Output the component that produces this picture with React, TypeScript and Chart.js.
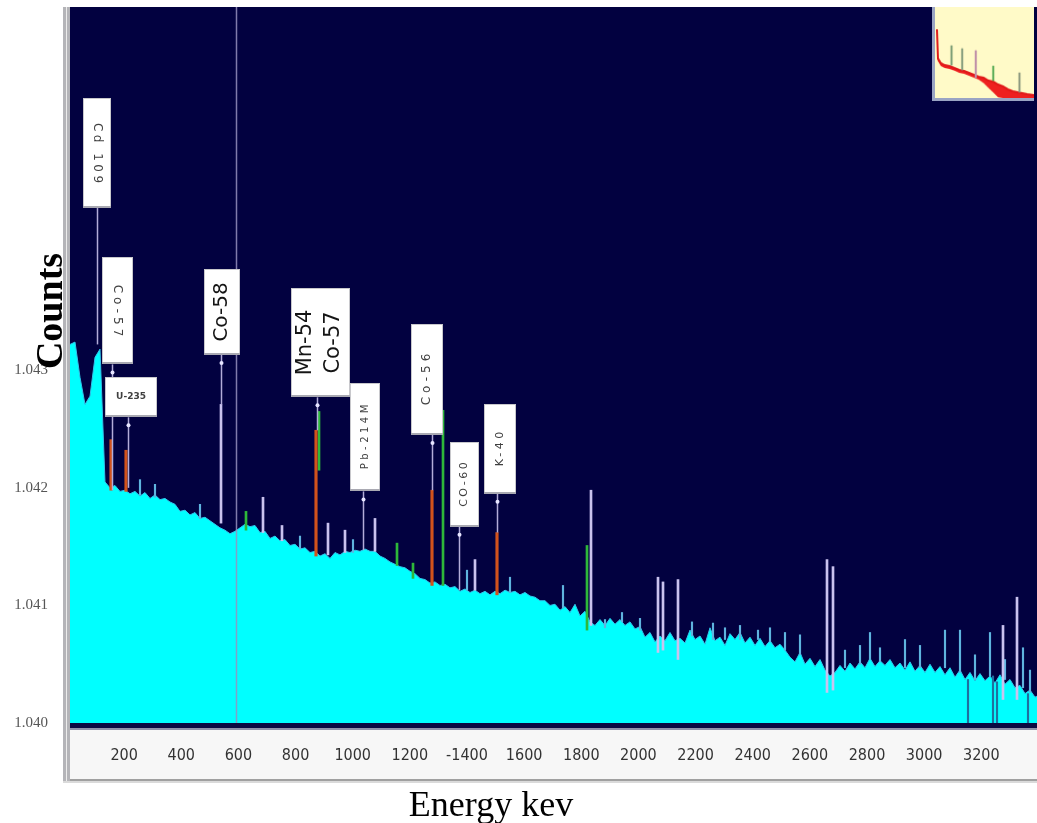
import React, { useEffect, useRef } from 'react';
import { Chart, registerables } from 'chart.js';

Chart.register(...registerables);

// ---------- spectrum (channel grid in keV, counts) ----------
const channelStartKeV = 10.5;
const channelWidthKeV = 17.5;
const spectrumCounts = [
  1.04322, 1.04324, 1.04294, 1.04271, 1.04278, 1.04311, 1.04318, 1.04205, 1.04200, 1.04202,
  1.04197, 1.04198, 1.04195, 1.04197, 1.04193, 1.04196, 1.04191, 1.04194, 1.04190, 1.04191,
  1.04188, 1.04186, 1.04180, 1.04181, 1.04177, 1.04179, 1.04174, 1.04175, 1.04172, 1.04169,
  1.04166, 1.04164, 1.04161, 1.04163, 1.04166, 1.04169, 1.04167, 1.04168, 1.04162, 1.04163,
  1.04157, 1.04159, 1.04155, 1.04156, 1.04151, 1.04152, 1.04148, 1.04149, 1.04145, 1.04146,
  1.04142, 1.04144, 1.04140, 1.04145, 1.04143, 1.04146, 1.04145, 1.04147, 1.04146, 1.04148,
  1.04146, 1.04146, 1.04142, 1.04140, 1.04137, 1.04135, 1.04133, 1.04132, 1.04129, 1.04127,
  1.04123, 1.04122, 1.04119, 1.04120, 1.04117, 1.04118, 1.04115, 1.04116, 1.04112, 1.04114,
  1.04111, 1.04113, 1.04110, 1.04112, 1.04109, 1.04112, 1.04110, 1.04113, 1.04111, 1.04112,
  1.04109, 1.04111, 1.04108, 1.04107, 1.04104, 1.04104, 1.04100, 1.04101, 1.04096, 1.04099,
  1.04094, 1.04101, 1.04091, 1.04095, 1.04086, 1.04083, 1.04088, 1.04083, 1.04089, 1.04084,
  1.04088, 1.04083, 1.04086, 1.04080, 1.04082, 1.04073, 1.04077, 1.04069, 1.04074, 1.04070,
  1.04077, 1.04070, 1.04072, 1.04068, 1.04079, 1.04071, 1.04074, 1.04067, 1.04081, 1.04070,
  1.04073, 1.04066, 1.04076, 1.04071, 1.04077, 1.04068, 1.04073, 1.04066, 1.04072, 1.04065,
  1.04070, 1.04064, 1.04067, 1.04062, 1.04056, 1.04052, 1.04060, 1.04050, 1.04055, 1.04048,
  1.04054, 1.04045, 1.04040, 1.04043, 1.04049, 1.04044, 1.04051, 1.04046, 1.04052, 1.04047,
  1.04055, 1.04048, 1.04053, 1.04049, 1.04054, 1.04047, 1.04051, 1.04045, 1.04052, 1.04044,
  1.04049, 1.04043, 1.04050, 1.04043, 1.04048, 1.04041, 1.04047, 1.04039, 1.04045, 1.04037,
  1.04043, 1.04036, 1.04042, 1.04036, 1.04040, 1.04034, 1.04041, 1.04033, 1.04037, 1.04030,
  1.04032, 1.04025, 1.04028, 1.04022, 1.04024,
];

// ---------- axes ----------
const xTickValues = [200, 400, 600, 800, 1000, 1200, 1400, 1600, 1800, 2000, 2200, 2400, 2600, 2800, 3000, 3200];
const xTickLabels = ['200', '400', '600', '800', '1000', '1200', '-1400', '1600', '1800', '2000', '2200', '2400', '2600', '2800', '3000', '3200'];
const yTickValues = [1.040, 1.041, 1.042, 1.043];
const xAxisTitle = 'Energy kev';
const yAxisTitle = 'Counts';
const cursorKeV = 591.5;

// ---------- peak lines (energy, low, high) ----------
const orangePeakKeV = [154, 206.5, 871.5, 1277.5, 1505];
const orangePeakLow = [1.04198, 1.04197, 1.04142, 1.04117, 1.04109];
const orangePeakHigh = [1.04241, 1.04232, 1.04249, 1.04198, 1.04162];

const greenPeakKeV = [626.5, 882, 1155, 1211, 1316, 1820];
const greenPeakLow = [1.04164, 1.04215, 1.04134, 1.04123, 1.04117, 1.04079];
const greenPeakHigh = [1.04180, 1.04265, 1.04153, 1.04136, 1.04266, 1.04151];

const paleLineKeV = [539, 686, 752.5, 913.5, 973, 1078, 1428, 1834, 2068.5, 2086, 2138.5, 2660, 2681, 3276, 3325];
const paleLineLow = [1.04170, 1.04162, 1.04155, 1.04143, 1.04145, 1.04146, 1.04113, 1.04083, 1.04060, 1.04062, 1.04054, 1.04026, 1.04028, 1.04020, 1.04020];
const paleLineHigh = [1.04271, 1.04192, 1.04168, 1.04170, 1.04164, 1.04174, 1.04139, 1.04198, 1.04124, 1.04120, 1.04122, 1.04139, 1.04133, 1.04083, 1.04107];

const spikeKeV = [
  255.5, 308, 465.5, 815.5, 1001, 1400, 1550.5, 1736, 2261, 2355.5, 2565.5, 2810.5, 2933, 3073, 3125.5, 3230.5, 3346,
  1883, 1942.5, 2005.5, 2187.5, 2303, 2418.5, 2460.5, 2513, 2723, 2775.5, 2845.5, 2985.5, 3178, 3283, 3370.5,
];
const spikeLow = [
  1.04194, 1.04192, 1.04174, 1.04148, 1.04145, 1.04113, 1.04111, 1.04098, 1.04071, 1.04071, 1.04058, 1.04054, 1.04047, 1.04047, 1.04043, 1.04040, 1.04030,
  1.04081, 1.04086, 1.04079, 1.04074, 1.04071, 1.04071, 1.04069, 1.04062, 1.04047, 1.04050, 1.04052, 1.04047, 1.04037, 1.04037, 1.04026,
];
const spikeHigh = [
  1.04207, 1.04203, 1.04186, 1.04159, 1.04156, 1.04130, 1.04124, 1.04117, 1.04085, 1.04083, 1.04075, 1.04077, 1.04071, 1.04079, 1.04079, 1.04077, 1.04064,
  1.04088, 1.04094, 1.04089, 1.04086, 1.04081, 1.04079, 1.04081, 1.04077, 1.04062, 1.04066, 1.04064, 1.04066, 1.04058, 1.04054, 1.04045,
];

const dropoutKeV = [3153.5, 3241, 3255, 3363.5];
const dropoutLow = [1.040, 1.040, 1.040, 1.040];
const dropoutHigh = [1.04037, 1.04040, 1.04035, 1.04025];

// ---------- peak identification labels ----------
const labelText = ['Cd 109', 'Co-57', 'U-235', 'Co-58', 'Mn-54\nCo-57', 'Pb-214M', 'Co-56', 'CO-60', 'K-40'];
const labelKeV = [105, 176.75, 224, 542.5, 887.25, 1043, 1260, 1391.25, 1515.5];
const labelTop = [1.04532, 1.04396, 1.04294, 1.04386, 1.04370, 1.04289, 1.04339, 1.04239, 1.04271];
const labelBottom = [1.04438, 1.04305, 1.04260, 1.04313, 1.04277, 1.04197, 1.04245, 1.04167, 1.04195];
const stemKeV = [105, 157.5, 213.5, 539, 875, 1036, 1277.5, 1372, 1505];
const stemEnd = [1.04322, 1.04198, 1.04200, 1.04271, 1.04249, 1.04147, 1.04198, 1.04113, 1.04162];

// label styles
const labelBoxWidthPx = [28, 31, 52, 36, 59, 30, 32, 29, 32];
const labelFontPx = [12, 12, 9, 20, 21, 10, 12, 11, 11];
const labelLetterSpacingPx = [3.5, 4, 0, 0, 0, 3.5, 4, 2.5, 3.5];
const labelRotationDeg = [90, 90, 0, -90, -90, -90, -90, -90, -90];
const labelHasDot = [false, true, true, true, true, true, true, true, true];

// ---------- inset overview spectrum ----------
const insetChannel = [5, 6, 9, 13, 18, 23, 28, 33, 38, 43, 48, 53, 58, 63, 68, 73, 78, 83, 88, 93, 98, 105];
const insetCounts = [76.3, 45.4, 40.2, 38.1, 37.1, 35.1, 33.0, 32.0, 29.9, 27.8, 25.8, 24.7, 21.6, 20.6, 17.5, 15.5, 12.4, 10.3, 9.3, 8.2, 7.2, 6.2];
const insetLower = [45.0, 42.4, 37.2, 35.1, 34.1, 32.1, 30.0, 29.0, 26.9, 24.8, 22.8, 19.0, 14.0, 9.0, 4.0, 3.1, 3.1, 3.1, 3.1, 3.1, 3.1, 3.1];
const insetPeakChannel = [20, 31, 45, 63, 90];
const insetPeakLow = [38.1, 33.0, 24.7, 21.6, 9.3];
const insetPeakHigh = [58.8, 55.7, 53.6, 37.1, 29.9];
const insetPeakColors = ['#7f9f78', '#8aa080', '#c090a8', '#5fae5a', '#8f9a80'];

const NAVY = '#020140';

const lineSet = (label: string, keV: number[], low: number[], high: number[], color: string, thickness: number) => ({
  type: 'bar' as const,
  label,
  data: keV.map((e, i) => ({ x: e, y: [low[i], high[i]] })),
  backgroundColor: color,
  borderWidth: 0,
  barThickness: thickness,
  grouped: false,
  order: 1,
});

const framePlugin = {
  id: 'frame',
  beforeDraw(chart: any) {
    const { ctx, chartArea: a, width, height } = chart;
    ctx.save();
    ctx.fillStyle = '#ffffff';
    ctx.fillRect(0, 0, width, height);
    ctx.fillStyle = NAVY;
    ctx.fillRect(a.left, a.top, a.right - a.left, a.bottom - a.top);
    ctx.fillStyle = '#0a0a42';
    ctx.fillRect(68, a.bottom, a.right - 68, 5);
    ctx.fillStyle = '#8e92aa';
    ctx.fillRect(68, a.bottom + 5, a.right - 68, 2);
    ctx.fillStyle = '#f7f7f7';
    ctx.fillRect(68, a.bottom + 7, a.right - 68, 49);
    ctx.fillStyle = '#a0a0a0';
    ctx.fillRect(63, a.bottom + 56, a.right - 63, 2);
    ctx.fillStyle = '#dadada';
    ctx.fillRect(63, a.bottom + 58, a.right - 63, 2);
    ctx.fillStyle = '#b4b4b8';
    ctx.fillRect(63, a.top, 7, a.bottom + 58 - a.top);
    ctx.fillStyle = '#ececec';
    ctx.fillRect(66, a.top, 1, a.bottom + 58 - a.top);
    ctx.restore();
  },
};

const annotatePlugin = {
  id: 'annotate',
  afterDatasetsDraw(chart: any) {
    const { ctx, chartArea: a } = chart;
    const xs = chart.scales.x;
    const ys = chart.scales.y;
    ctx.save();
    ctx.beginPath();
    ctx.rect(a.left, a.top, a.right - a.left, a.bottom - a.top);
    ctx.clip();
    const cx0 = Math.round(xs.getPixelForValue(cursorKeV)) + 0.5;
    ctx.strokeStyle = 'rgba(150,145,190,0.85)';
    ctx.lineWidth = 1.5;
    ctx.beginPath();
    ctx.moveTo(cx0, a.top);
    ctx.lineTo(cx0, a.bottom);
    ctx.stroke();
    labelText.forEach((_, i) => {
      const sx = Math.round(xs.getPixelForValue(stemKeV[i])) + 0.5;
      const y0 = ys.getPixelForValue(labelBottom[i]);
      const y1 = ys.getPixelForValue(stemEnd[i]);
      ctx.strokeStyle = '#b3acd9';
      ctx.lineWidth = 1.5;
      ctx.beginPath();
      ctx.moveTo(sx, y0);
      ctx.lineTo(sx, y1);
      ctx.stroke();
      if (labelHasDot[i]) {
        ctx.fillStyle = '#e6e4ff';
        ctx.beginPath();
        ctx.arc(sx, y0 + 8, 2, 0, Math.PI * 2);
        ctx.fill();
      }
    });
    labelText.forEach((t, i) => {
      const cx = xs.getPixelForValue(labelKeV[i]);
      const w = labelBoxWidthPx[i];
      const top = Math.round(ys.getPixelForValue(labelTop[i]));
      const bot = Math.round(ys.getPixelForValue(labelBottom[i]));
      const left = Math.round(cx - w / 2);
      ctx.fillStyle = '#ffffff';
      ctx.fillRect(left, top, w, bot - top);
      ctx.strokeStyle = '#c8c8cc';
      ctx.lineWidth = 1;
      ctx.strokeRect(left + 0.5, top + 0.5, w - 1, bot - top - 1);
      ctx.fillStyle = '#a9a9b2';
      ctx.fillRect(left, bot - 2, w, 2);
      ctx.save();
      ctx.translate(left + w / 2, (top + bot) / 2);
      ctx.rotate((labelRotationDeg[i] * Math.PI) / 180);
      const fs = labelFontPx[i];
      const big = fs >= 18;
      ctx.font = `${labelRotationDeg[i] === 0 ? 'bold ' : ''}${fs}px "DejaVu Sans", "Open Sans", sans-serif`;
      (ctx as any).letterSpacing = `${labelLetterSpacingPx[i]}px`;
      ctx.fillStyle = big ? '#151515' : '#404040';
      ctx.textAlign = 'center';
      ctx.textBaseline = 'middle';
      const lines = t.split('\n');
      const lh = fs * 1.33;
      lines.forEach((ln, k) => {
        ctx.fillText(ln, labelLetterSpacingPx[i] / 2, (k - (lines.length - 1) / 2) * lh - (lines.length > 1 ? 1 : 0));
      });
      ctx.restore();
    });
    ctx.restore();
  },
  afterDraw(chart: any) {
    const { ctx } = chart;
    ctx.save();
    ctx.fillStyle = '#000000';
    ctx.textAlign = 'center';
    ctx.textBaseline = 'alphabetic';
    ctx.font = 'bold 38px "Liberation Serif", "Times New Roman", serif';
    ctx.translate(62, 311);
    ctx.rotate(-Math.PI / 2);
    ctx.fillText(yAxisTitle, 0, 0);
    ctx.restore();
    ctx.save();
    ctx.fillStyle = '#000000';
    ctx.textAlign = 'center';
    ctx.textBaseline = 'alphabetic';
    ctx.font = '36px "Liberation Serif", "Times New Roman", serif';
    ctx.fillText(xAxisTitle, 491, 816);
    ctx.restore();
  },
};

export default function App() {
  const mainRef = useRef<HTMLCanvasElement>(null);
  const insetRef = useRef<HTMLCanvasElement>(null);

  useEffect(() => {
    const spectrum = spectrumCounts.map((c, i) => ({ x: channelStartKeV + i * channelWidthKeV, y: c }));
    const main = new Chart(mainRef.current as HTMLCanvasElement, {
      type: 'line',
      data: {
        datasets: [
          {
            type: 'line',
            label: 'Spectrum',
            data: spectrum,
            borderColor: '#33c3ea',
            borderWidth: 1,
            backgroundColor: '#00ffff',
            fill: 'start',
            pointRadius: 0,
            tension: 0,
            order: 10,
          } as any,
          lineSet('Unidentified', paleLineKeV, paleLineLow, paleLineHigh, '#c9c2ee', 2),
          lineSet('Spikes', spikeKeV, spikeLow, spikeHigh, '#5fb4de', 1.5),
          lineSet('Dropouts', dropoutKeV, dropoutLow, dropoutHigh, '#1f6f9f', 1.5),
          lineSet('Identified A', orangePeakKeV, orangePeakLow, orangePeakHigh, '#d2521c', 2.5),
          lineSet('Identified B', greenPeakKeV, greenPeakLow, greenPeakHigh, '#2eb83a', 2),
        ],
      },
      options: {
        responsive: false,
        animation: false,
        devicePixelRatio: 1,
        layout: { padding: { top: 7, right: 0, bottom: 0, left: 0 } },
        plugins: { legend: { display: false }, tooltip: { enabled: false } },
        scales: {
          x: {
            type: 'linear',
            offset: false,
            min: 10.5,
            max: 3395,
            grid: { display: false, drawTicks: false, offset: false },
            border: { display: false },
            afterBuildTicks: (scale: any) => {
              scale.ticks = xTickValues.map((v) => ({ value: v }));
            },
            afterFit: (scale: any) => {
              scale.height = 100;
              scale.paddingLeft = 0;
              scale.paddingRight = 0;
            },
            ticks: {
              autoSkip: false,
              maxRotation: 0,
              padding: 23,
              color: '#333333',
              font: { family: '"DejaVu Sans Condensed", "DejaVu Sans", sans-serif', size: 16 },
              callback: (_v: any, i: number) => xTickLabels[i],
            },
          },
          y: {
            type: 'linear',
            beginAtZero: false,
            min: 1.04,
            max: 1.04609,
            grid: { display: false, drawTicks: false },
            border: { display: false },
            afterBuildTicks: (scale: any) => {
              scale.ticks = yTickValues.map((v) => ({ value: v }));
            },
            afterFit: (scale: any) => {
              scale.width = 70;
              scale.paddingTop = 0;
              scale.paddingBottom = 0;
            },
            ticks: {
              padding: 22,
              color: '#555555',
              font: { family: '"Liberation Serif", serif', size: 15 },
              callback: (v: any) => Number(v).toFixed(3),
            },
          },
        },
      } as any,
      plugins: [framePlugin, annotatePlugin],
    });

    const inset = new Chart(insetRef.current as HTMLCanvasElement, {
      type: 'line',
      data: {
        datasets: [
          {
            type: 'line',
            label: 'Overview',
            data: insetChannel.map((c, i) => ({ x: c, y: insetCounts[i] })),
            borderColor: '#e01818',
            borderWidth: 2,
            backgroundColor: '#ee2020',
            fill: '+1',
            pointRadius: 0,
            tension: 0,
            order: 5,
          } as any,
          {
            type: 'line',
            label: 'Overview lower',
            data: insetChannel.map((c, i) => ({ x: c, y: insetLower[i] })),
            borderWidth: 0,
            borderColor: 'rgba(0,0,0,0)',
            pointRadius: 0,
            fill: false,
            order: 6,
          } as any,
          {
            type: 'bar',
            label: 'Overview peaks',
            data: insetPeakChannel.map((c, i) => ({ x: c, y: [insetPeakLow[i], insetPeakHigh[i]] })),
            backgroundColor: insetPeakColors,
            barThickness: 1.5,
            grouped: false,
            order: 1,
          } as any,
        ],
      },
      options: {
        responsive: false,
        animation: false,
        devicePixelRatio: 1,
        layout: { padding: 0 },
        plugins: { legend: { display: false }, tooltip: { enabled: false } },
        scales: {
          x: { type: 'linear', offset: false, min: 3, max: 105, display: false },
          y: { type: 'linear', beginAtZero: false, min: 3.1, max: 100, display: false },
        },
      } as any,
    });

    return () => {
      main.destroy();
      inset.destroy();
    };
  }, []);

  return (
    <div style={{ position: 'fixed', left: 0, top: 0, width: 1037, height: 823, background: '#ffffff', overflow: 'hidden' }}>
      <canvas ref={mainRef} width={1037} height={823} style={{ position: 'absolute', left: 0, top: 0 }} />
      <canvas
        ref={insetRef}
        width={102}
        height={94}
        style={{
          position: 'absolute',
          left: 932,
          top: 7,
          borderLeft: '3px solid #9aa4c4',
          borderBottom: '3px solid #9aa4c4',
          background: '#fffac8',
        }}
      />
    </div>
  );
}
